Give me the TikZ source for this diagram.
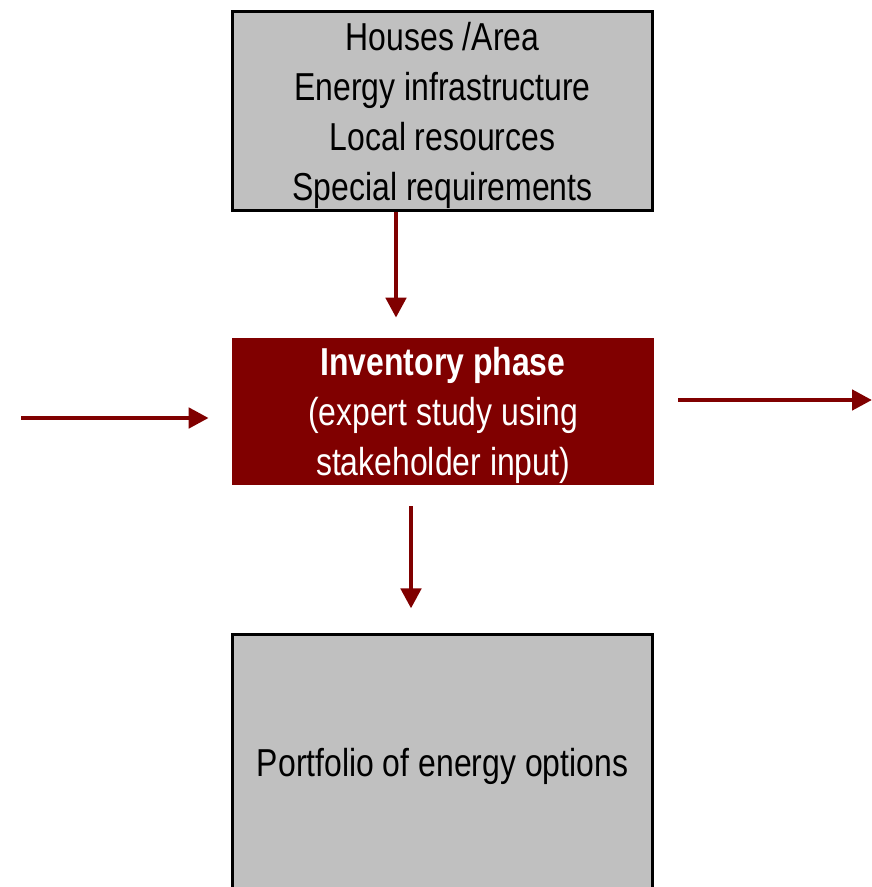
\documentclass[tikz,border=0pt]{standalone}
\usepackage{fontspec}
\setmainfont[FakeStretch=0.82]{Liberation Sans}
\usetikzlibrary{positioning, arrows.meta}

\definecolor{darkred}{HTML}{800000}
\definecolor{boxgray}{HTML}{C0C0C0}

% extra height on the first line pushes the text block down a little
\newcommand{\boxstrut}{\rule{0pt}{26pt}}

\tikzset{
	infobox/.style={rectangle, draw=black, fill=boxgray, line width=0.075cm,
		minimum width=10.5cm, align=center, inner sep=0pt,
		font=\fontsize{27.7}{35.6}\selectfont},
	phasebox/.style={rectangle, fill=darkred, text=white,
		minimum width=10.55cm, minimum height=3.675cm, align=center, inner sep=0pt,
		font=\fontsize{27.7}{35.6}\selectfont},
	flow/.style={draw=darkred, line width=0.115cm,
		-{Triangle[length=0.5cm, width=0.5cm]}}
}

\begin{document}
\begin{tikzpicture}[x=0.025cm, y=-0.025cm]
	\clip (0,0) rectangle (872,887);

	\node[infobox, minimum height=4.975cm] (context) at (442.5,111)
		{\boxstrut Houses /Area\\Energy infrastructure\\Local resources\\Special requirements};

	\node[phasebox] (inventory) at (443,411.5)
		{\boxstrut\textbf{Inventory phase}\\(expert study using\\stakeholder input)};

	\node[infobox, minimum height=6.35cm] (portfolio) at (442.5,762)
		{\boxstrut Portfolio of energy options};

	\coordinate (in) at (21,418);
	\coordinate (out) at (872,400);
	\coordinate (down1) at (396,0);
	\coordinate (down2) at (411,0);

	\draw[flow, shorten >=0.5cm] (context.south -| down1) -- (inventory.north -| down1);
	\draw[flow, shorten <=0.525cm, shorten >=0.625cm] (inventory.south -| down2) -- (portfolio.north -| down2);
	\draw[flow, shorten >=0.575cm] (in) -- (inventory.west |- in);
	\draw[flow, shorten <=0.6cm] (inventory.east |- out) -- (out);
\end{tikzpicture}
\end{document}
